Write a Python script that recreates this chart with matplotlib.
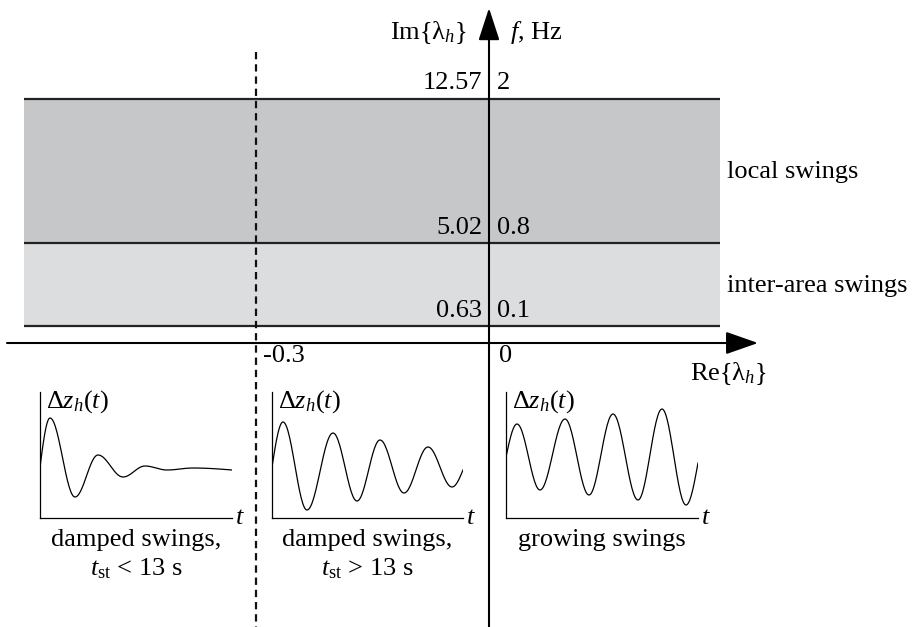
import numpy as np
import matplotlib
matplotlib.use('Agg')
import matplotlib.pyplot as plt

plt.rcParams['font.family'] = ['Liberation Serif', 'DejaVu Serif']
plt.rcParams['mathtext.fontset'] = 'custom'
plt.rcParams['mathtext.rm'] = 'Liberation Serif'
plt.rcParams['mathtext.it'] = 'Liberation Serif:italic'

# data
im_values = ['12.57', '5.02', '0.63']        # Im{lambda_h} at band edges
f_values = ['2', '0.8', '0.1']               # f, Hz at band edges
band_names = ['local swings', 'inter-area swings']
re_ticks = ['-0.3', '0']

# swing curves: extrema (time, amplitude)
t1 = [0, 10, 35, 58, 83, 105, 127, 153, 192]
z1 = [51, 100, 21, 63, 41, 52, 48, 50, 48]
t2 = [0, 11, 35, 61, 85, 108, 132, 156, 180, 191]
z2 = [51, 96, 8, 85, 17, 78, 25, 71, 31, 48]
t3 = [0, 11, 34, 59, 83, 107, 132, 156, 180, 192]
z3 = [61, 94, 28, 99, 23, 104, 18, 109, 13, 55]
captions = [('damped swings,', r'$t_{\mathrm{st}}$ < 13 s'),
            ('damped swings,', r'$t_{\mathrm{st}}$ > 13 s'),
            ('growing swings', '')]

W, H = 913, 627
fig = plt.figure(figsize=(W / 100, H / 100), dpi=100)
ax = fig.add_axes([0, 0, 1, 1])
ax.set_xlim(0, W)
ax.set_ylim(H, 0)
ax.axis('off')

fs = 19
# layout (pixels)
band_y = [99, 243, 326]
band_x = [24, 720]
x0 = 489      # Re = 0 axis
xd = 256      # Re = -0.3 dashed
y0 = 343      # Im = 0 axis

ax.fill_between(band_x, band_y[0], band_y[1], color='#c6c7c8', lw=0)
ax.fill_between(band_x, band_y[1], band_y[2], color='#dcdddf', lw=0)
ax.hlines(band_y, band_x[0], band_x[1], color='#222222', lw=1.6)

ax.plot([xd, xd], [52, H], color='#111111', lw=1.6, linestyle=(0, (3.3, 2.2)))

ax.annotate('', xy=(x0, 8), xytext=(x0, H + 2),
            arrowprops=dict(arrowstyle='-|>,head_length=2.0,head_width=0.65',
                            lw=1.5, color='k', shrinkA=0, shrinkB=0))
ax.annotate('', xy=(758, y0), xytext=(7, y0),
            arrowprops=dict(arrowstyle='-|>,head_length=2.0,head_width=0.7',
                            lw=1.5, color='k', shrinkA=0, shrinkB=0))

ax.text(467, 39, r'Im$\{\mathrm{λ}_h\}$', fontsize=fs, ha='right', va='baseline')
ax.text(510, 39, r'$f$, Hz', fontsize=fs, ha='left', va='baseline')

for yb, a, b in zip([89, 234, 317], im_values, f_values):
    ax.text(482, yb, a, fontsize=fs, ha='right', va='baseline')
    ax.text(497, yb, b, fontsize=fs, ha='left', va='baseline')

for yb, name in zip([178, 292], band_names):
    ax.text(727, yb, name, fontsize=fs, ha='left', va='baseline')

ax.text(263, 362, re_ticks[0], fontsize=fs, ha='left', va='baseline')
ax.text(499, 362, re_ticks[1], fontsize=fs, ha='left', va='baseline')
ax.text(767, 380, r'Re$\{\mathrm{λ}_h\}$', fontsize=fs, ha='right', va='baseline')


def smooth(t, z):
    xs, ys = [], []
    n = len(t) - 1
    for i in range(n):
        s = np.linspace(0, 1, 30)
        if i == 0:
            e = np.sin(np.pi / 2 * s)
        elif i == n - 1:
            e = 1 - np.cos(np.pi / 2 * s)
        else:
            e = (1 - np.cos(np.pi * s)) / 2
        xs.append(t[i] + (t[i + 1] - t[i]) * s)
        ys.append(z[i] + (z[i + 1] - z[i]) * e)
    return np.concatenate(xs), np.concatenate(ys)


# small sketches: left edge, right edge of the t axis (pixels)
boxes = [(40, 232), (272, 463), (506, 698)]
top, bot = 392, 518
for (l, r), t, z, cap in zip(boxes, [t1, t2, t3], [z1, z2, z3], captions):
    sa = fig.add_axes([l / W, 1 - bot / H, (r - l) / W, (bot - top) / H])
    sa.set_xlim(0, r - l)
    sa.set_ylim(0, bot - top)
    sa.patch.set_alpha(0)
    for sp in ['top', 'right']:
        sa.spines[sp].set_visible(False)
    for sp in ['left', 'bottom']:
        sa.spines[sp].set_linewidth(0.9)
    sa.set_xticks([])
    sa.set_yticks([])
    xs, ys = smooth(t, z)
    sa.plot(xs, ys, color='k', lw=0.9)
    ax.text(l + 6, 408, r'$\mathrm{Δ}z_h(t)$', fontsize=fs, ha='left', va='baseline')
    ax.text(r + 3, 524, r'$t$', fontsize=fs, ha='left', va='baseline')
    cx = (l + r) / 2
    ax.text(cx, 546, cap[0], fontsize=fs, ha='center', va='baseline')
    if cap[1]:
        ax.text(cx, 575, cap[1], fontsize=fs, ha='center', va='baseline')

fig.savefig('out.png', dpi=100)
